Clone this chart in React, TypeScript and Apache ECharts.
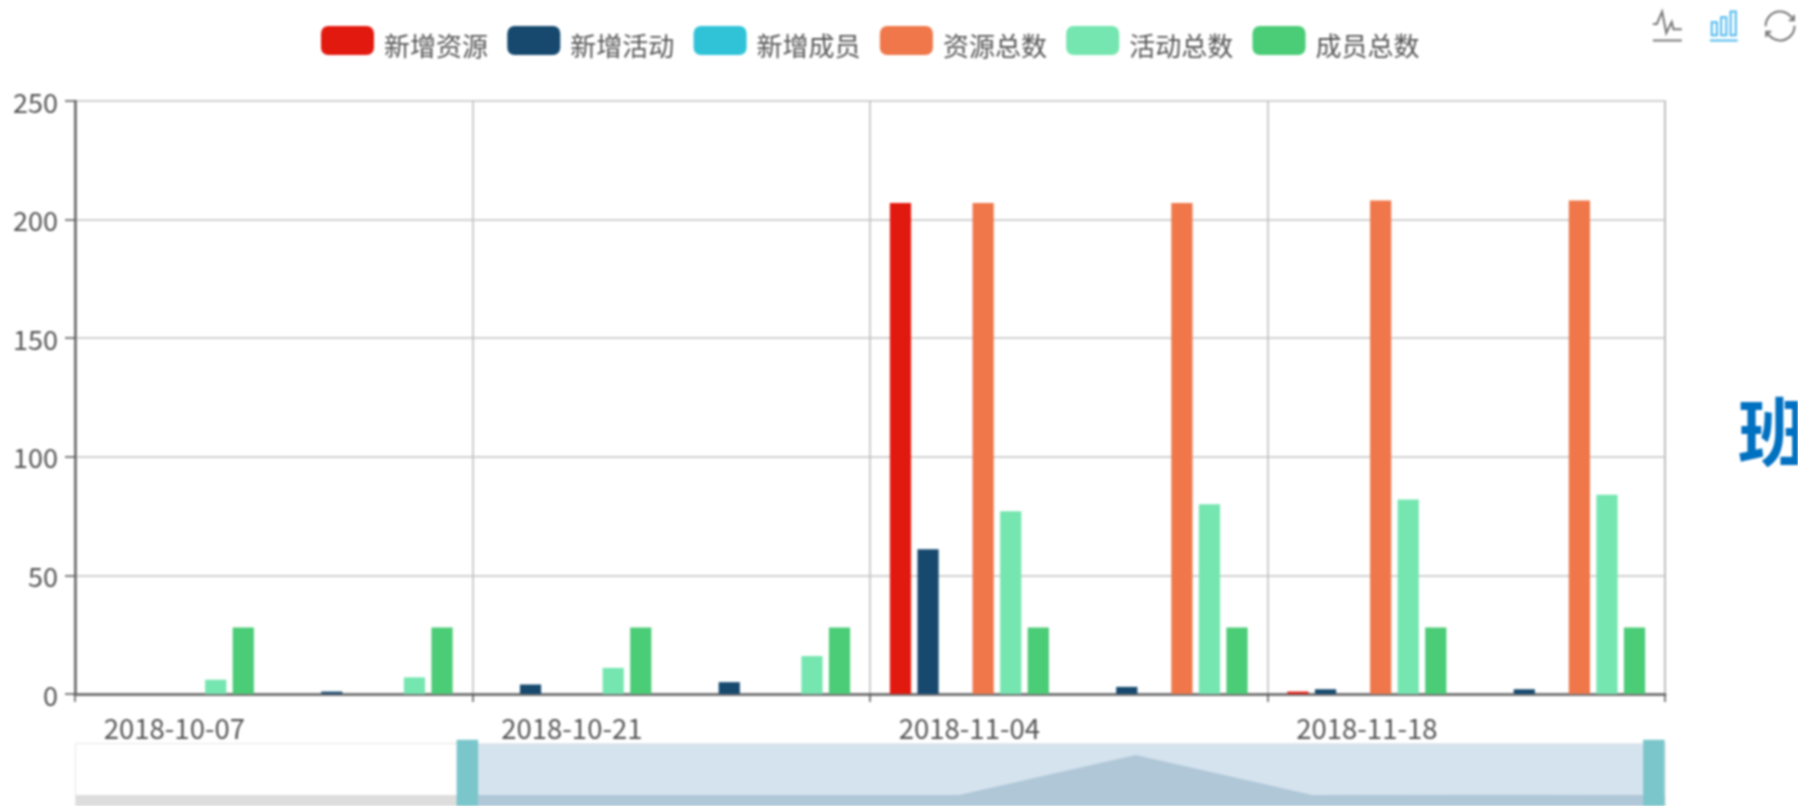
import React, { useEffect, useRef } from "react";
import * as echarts from "echarts";

const categories = ["2018-09-23", "2018-09-30", "2018-10-07", "2018-10-14", "2018-10-21", "2018-10-28", "2018-11-04", "2018-11-11", "2018-11-18", "2018-11-25"];
const newResources = [0, 0, 0, 0, 0, 0, 207, 0, 1, 0];
const newActivities = [0, 0, 0, 1, 4, 5, 61, 3, 2, 2];
const newMembers = [0, 0, 0, 0, 0, 0, 0, 0, 0, 0];
const totalResources = [0, 0, 0, 0, 0, 0, 207, 207, 208, 208];
const totalActivities = [5, 5, 6, 7, 11, 16, 77, 80, 82, 84];
const totalMembers = [28, 28, 28, 28, 28, 28, 28, 28, 28, 28];
const seriesNames = ["新增资源", "新增活动", "新增成员", "资源总数", "活动总数", "成员总数"];
const seriesData = [newResources, newActivities, newMembers, totalResources, totalActivities, totalMembers];
const colors = ["#e2190f", "#17496e", "#30c3d8", "#ef774a", "#75e6b0", "#4bcc76"];
const FONT = "'Noto Sans CJK SC', 'Liberation Sans', sans-serif";

export default function App() {
  const ref = useRef<HTMLDivElement>(null);
  useEffect(() => {
    const chart = echarts.init(ref.current!, null, { renderer: "svg" });
    chart.setOption({
      animation: false,
      color: colors,
      textStyle: { fontFamily: FONT },
      legend: {
        left: 316,
        top: 21,
        itemWidth: 53,
        itemHeight: 29,
        itemGap: 19.3,
        formatter: "{a|{name}}",
        textStyle: {
          fontSize: 26,
          color: "#555",
          fontFamily: FONT,
          padding: [0, 0, 0, 5],
          rich: { a: { fontSize: 26, color: "#555", fontFamily: FONT, lineHeight: 33, verticalAlign: "bottom" } },
        },
        data: seriesNames,
      },
      toolbox: {
        right: -14,
        top: -6,
        itemSize: 29,
        itemGap: 23,
        showTitle: false,
        iconStyle: { borderColor: "#777", borderWidth: 2 },
        emphasis: { iconStyle: { borderColor: "#4fb9ee" } },
        feature: {
          magicType: { type: ["line", "bar"], iconStatus: { bar: "emphasis" } },
          restore: {},
        },
      },
      grid: { left: 75, right: 133, top: 101, bottom: 112, show: true, borderColor: "#bbb", borderWidth: 1.5 },
      xAxis: {
        type: "category",
        data: categories,
        axisLine: { lineStyle: { color: "#777", width: 3 } },
        axisTick: { show: true, interval: 1, length: 8, lineStyle: { color: "#555", width: 1.5 } },
        axisLabel: { interval: 1, fontSize: 27.5, color: "#555", margin: 19, fontFamily: FONT },
        splitLine: { show: true, interval: 1, lineStyle: { color: "#bbb", width: 1.5 } },
      },
      yAxis: {
        type: "value",
        min: 0,
        max: 250,
        interval: 50,
        axisLine: { show: true, lineStyle: { color: "#666", width: 2.5 } },
        axisTick: { show: true, length: 10, lineStyle: { color: "#555", width: 1.5 } },
        axisLabel: { fontSize: 27, color: "#555", margin: 17, fontFamily: FONT },
        splitLine: { show: true, lineStyle: { color: "#d2d2d2", width: 2 } },
      },
      dataZoom: [
        {
          type: "slider",
          left: 72.5,
          right: 134.5,
          top: 743,
          height: 64,
          start: 24.6,
          end: 99.3,
          showDetail: false,
          brushSelect: false,
          moveHandleSize: 0,
          borderColor: "#e8e8e8",
          backgroundColor: "#fff",
          fillerColor: "rgba(45,115,170,0.2)",
          handleIcon: "path://M0,0L21.5,0L21.5,70.4L0,70.4Z",
          handleSize: "110%",
          handleStyle: { color: "#7bc6cb", borderWidth: 0 },
          dataBackground: { lineStyle: { opacity: 0 }, areaStyle: { color: "#dddddd", opacity: 1 } },
          selectedDataBackground: { lineStyle: { opacity: 0 }, areaStyle: { color: "#d1dde4", opacity: 1 } },
        },
      ],
      graphic: [
        {
          type: "text",
          x: 1738,
          y: 390,
          style: { text: "班", fontSize: 74, fontWeight: "bold", fill: "#0070c0", fontFamily: "'Noto Sans CJK SC'" },
        },
      ],
      series: seriesNames.map((name, i) => ({
        name,
        type: "bar",
        data: seriesData[i],
        barGap: "30%",
        barCategoryGap: "20%",
      })),
    });
    return () => chart.dispose();
  }, []);
  return (
    <div
      ref={ref}
      style={{ position: "absolute", left: 0, top: 0, width: 1798, height: 806, overflow: "hidden", filter: "blur(0.8px)" }}
    />
  );
}
